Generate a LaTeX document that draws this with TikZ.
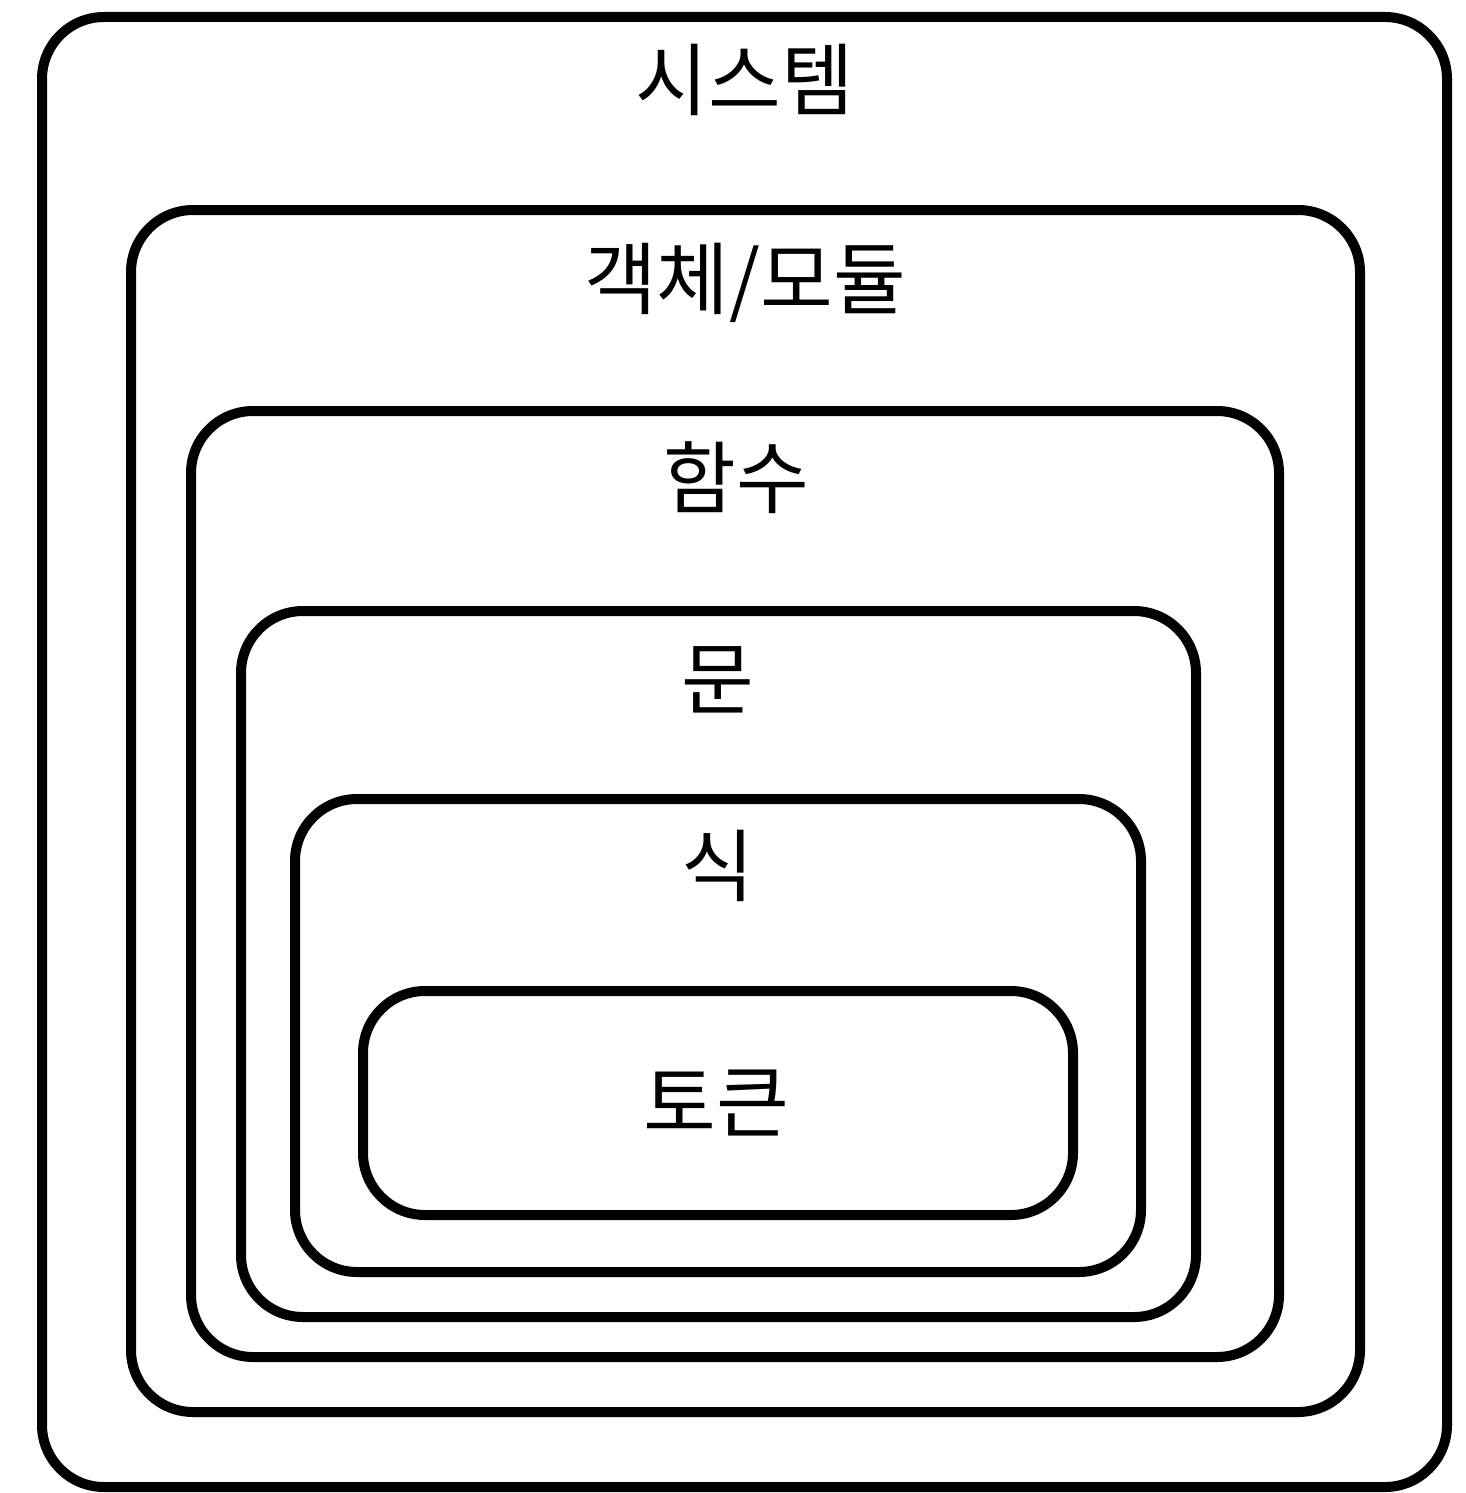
\documentclass[tikz,border=0pt]{standalone}
\usepackage{fontspec}
\newfontfamily\kr{Noto Sans CJK KR}
\begin{document}
\begin{tikzpicture}[x=1pt,y=-1pt,
  box/.style={draw=black,line width=10pt,rounded corners=62pt,fill=none},
  lbl/.style={font=\kr\fontsize{79}{84}\selectfont,inner sep=0pt,anchor=center}]
\useasboundingbox (0,0) rectangle (1465,1493);
\draw[box] (42,17) rectangle (1447,1487) coordinate (sysbr);
\draw[box] (131,210) rectangle (1360,1412);
\draw[box] (191,411) rectangle (1279,1357);
\draw[box] (241,611) rectangle (1196,1317);
\draw[box] (295,799) rectangle (1141,1272);
\draw[box] (363,991) rectangle (1073,1215);
\node[lbl] (sys) at (745,80) {시스템};
\node[lbl] (obj) at (745,283) {객체/모듈};
\node[lbl] (fun) at (736,478) {함수};
\node[lbl] (stmt) at (718,680) {문};
\node[lbl] (expr) at (718,866) {식};
\node[lbl] (tok) at (716,1103) {토큰};
\end{tikzpicture}
\end{document}
